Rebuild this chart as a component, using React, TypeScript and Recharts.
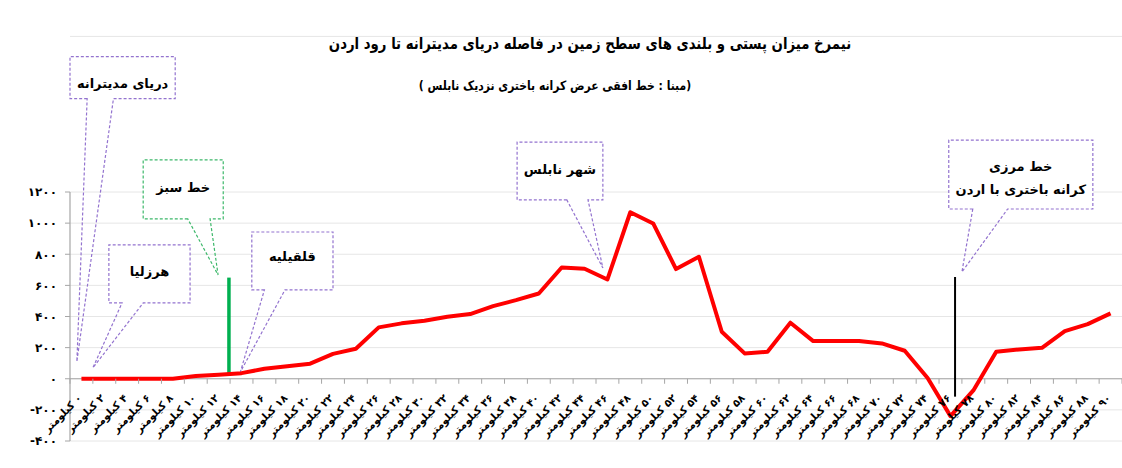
import React from "react";
import { CartesianGrid, Line, LineChart, ReferenceArea, ReferenceDot, ReferenceLine, XAxis, YAxis } from "recharts";

// distance from the coast (km) and ground elevation (m)
const distanceKm = [
  0, 2, 4, 6, 8, 10, 12, 14, 16, 18, 20, 22, 24, 26, 28, 30, 32, 34, 36, 38, 40, 42, 44,
  46, 48, 50, 52, 54, 56, 58, 60, 62, 64, 66, 68, 70, 72, 74, 76, 78, 80, 82, 84, 86, 88, 90,
];
const elevation = [
  0, 0, 0, 0, 0, 17, 26, 36, 64, 81, 97, 160, 193, 330, 356, 373, 398, 416, 467, 505, 548, 715, 707,
  638, 1070, 998, 705, 784, 302, 163, 173, 360, 242, 242, 242, 227, 180, 5, -240, -75, 173, 188, 199, 306, 351, 420,
];
const yTicks = [-400, -200, 0, 200, 400, 600, 800, 1000, 1200];

const title = "نیمرخ میزان پستی و بلندی های سطح زمین در فاصله دریای مدیترانه تا رود اردن";
const subtitle = "(مبنا : خط افقی عرض کرانه باختری نزدیک نابلس )";
const kmUnit = "کیلومتر";

// vertical markers (km, from elevation, to elevation)
const greenLine = { km: 12.9, from: 35, to: 650 };
const borderLine = { km: 76.4, from: -115, to: 654 };

const PURPLE = "#9373cf";
const GREEN = "#3cb86a";
const FONT = "'DejaVu Sans', sans-serif";

type Callout = {
  lines: string[];
  x1: number;
  x2: number;
  y1: number;
  y2: number;
  base: [number, number];
  tip: [number, number];
  color: string;
  dy?: number;
};

const callouts: Callout[] = [
  { lines: ["دریای مدیترانه"], x1: -1, x2: 8.2, y1: 1800, y2: 2070, base: [0.5, 2.8], tip: [-0.4, 110], color: PURPLE, dy: 6 },
  { lines: ["هرزلیا"], x1: 2.4, x2: 9.5, y1: 487, y2: 860, base: [3.55, 5.4], tip: [1.0, 70], color: PURPLE, dy: -2 },
  { lines: ["خط سبز"], x1: 5.4, x2: 12.4, y1: 1027, y2: 1406, base: [9.3, 11.25], tip: [11.95, 667], color: GREEN, dy: -2 },
  { lines: ["قلقیلیه"], x1: 14.9, x2: 22.0, y1: 571, y2: 943, base: [16.0, 17.8], tip: [13.9, 44], color: PURPLE, dy: -4 },
  { lines: ["شهر نابلس"], x1: 38.1, x2: 45.6, y1: 1149, y2: 1521, base: [42.45, 44.3], tip: [45.6, 712], color: PURPLE, dy: -2 },
  {
    lines: ["خط مرزی", "کرانه باختری با اردن"],
    x1: 75.85,
    x2: 88.45,
    y1: 1091,
    y2: 1534,
    base: [77.95, 81.0],
    tip: [77.0, 686],
    color: PURPLE,
    dy: 3,
  },
];

const data = distanceKm.map((km, i) => ({ km, elevation: elevation[i] }));
const boundaries = [...distanceKm.map((km) => km - 1), distanceKm[distanceKm.length - 1] + 1];

const fa = (n: number) => String(n).replace(/\d/g, (d) => "۰۱۲۳۴۵۶۷۸۹"[+d]);

function CalloutShape(props: any) {
  const { x, y, width, height, c } = props as { x: number; y: number; width: number; height: number; c: Callout };
  const kx = width / (c.x2 - c.x1);
  const ky = height / (c.y2 - c.y1);
  const px = (km: number) => x + (km - c.x1) * kx;
  const py = (v: number) => y + (c.y2 - v) * ky;
  const bottom = y + height;
  const b1 = px(c.base[0]);
  const b2 = px(c.base[1]);
  const d = `M${b1},${bottom} L${x},${bottom} L${x},${y} L${x + width},${y} L${x + width},${bottom} L${b2},${bottom} L${px(c.tip[0])},${py(c.tip[1])} Z`;
  const cy = y + height / 2 + (c.dy ?? 0) - ((c.lines.length - 1) * 23) / 2;
  return (
    <g>
      <rect x={x} y={y} width={width} height={height} fill="#fff" />
      <path d={d} fill="none" stroke={c.color} strokeWidth={1.2} strokeDasharray="3 2" />
      {c.lines.map((t, i) => (
        <text
          key={i}
          x={x + width / 2}
          y={cy + i * 23}
          textAnchor="middle"
          dominantBaseline="central"
          direction="rtl"
          fontFamily={FONT}
          fontWeight={700}
          fontSize={13}
          fill="#000"
        >
          {t}
        </text>
      ))}
    </g>
  );
}

function KmLabel({ cx, cy, km }: { cx: number; cy: number; km: number }) {
  const ax = cx + 1;
  const ay = cy + 20;
  return (
    <text
      x={ax}
      y={ay}
      transform={`rotate(-45, ${ax}, ${ay})`}
      textAnchor="end"
      fontFamily={FONT}
      fontWeight={700}
      fontSize={10.5}
      fill="#000"
    >
      {"\u200F" + fa(km) + " " + kmUnit}
    </text>
  );
}

export default function App() {
  return (
    <div style={{ position: "absolute", left: 0, top: 0, width: 1122, height: 468, background: "#fff" }}>
      <div
        style={{
          position: "absolute",
          left: 590,
          top: 34,
          transform: "translateX(-50%) scaleX(0.83)",
          whiteSpace: "nowrap",
          direction: "rtl",
          fontFamily: FONT,
          fontWeight: 700,
          fontSize: 16,
          zIndex: 2,
        }}
      >
        {title}
      </div>
      <div
        style={{
          position: "absolute",
          left: 555,
          top: 78,
          transform: "translateX(-50%) scaleX(0.83)",
          whiteSpace: "nowrap",
          direction: "rtl",
          fontFamily: FONT,
          fontWeight: 700,
          fontSize: 13,
          zIndex: 2,
        }}
      >
        {subtitle}
      </div>
      <LineChart width={1122} height={468} data={data} margin={{ top: 36.4, right: 0, bottom: 27, left: 10 }}>
        <CartesianGrid vertical={false} stroke="#e6e6e6" />
        <XAxis type="number" dataKey="km" domain={[-1, 91]} hide />
        <YAxis
          type="number"
          domain={[-400, 2200]}
          ticks={yTicks}
          interval={0}
          width={60}
          axisLine={false}
          stroke="#a6a6a6"
          tickSize={5}
          tickMargin={8}
          tickFormatter={fa}
          tick={{ fill: "#000", fontSize: 12, fontWeight: 700, fontFamily: FONT }}
        />
        <ReferenceLine
          segment={[
            { x: -1, y: yTicks[0] },
            { x: -1, y: yTicks[yTicks.length - 1] },
          ]}
          stroke="#a6a6a6"
          strokeWidth={1.2}
        />
        <ReferenceLine y={0} stroke="#a6a6a6" strokeWidth={1.2} />
        {boundaries.map((b) => (
          <ReferenceDot
            key={"t" + b}
            x={b}
            y={0}
            r={0}
            ifOverflow="visible"
            shape={(p: any) => <line x1={p.cx} y1={p.cy} x2={p.cx} y2={p.cy + 5} stroke="#a6a6a6" strokeWidth={1} />}
          />
        ))}
        {distanceKm.map((km) => (
          <ReferenceDot
            key={"l" + km}
            x={km}
            y={0}
            r={0}
            ifOverflow="visible"
            shape={(p: any) => <KmLabel cx={p.cx} cy={p.cy} km={km} />}
          />
        ))}
        {callouts.map((c, i) => (
          <ReferenceArea
            key={"c" + i}
            x1={c.x1}
            x2={c.x2}
            y1={c.y1}
            y2={c.y2}
            ifOverflow="visible"
            shape={(p: any) => <CalloutShape {...p} c={c} />}
          />
        ))}
        <ReferenceLine
          segment={[
            { x: greenLine.km, y: greenLine.from },
            { x: greenLine.km, y: greenLine.to },
          ]}
          stroke="#00b050"
          strokeWidth={3.5}
        />
        <ReferenceLine
          segment={[
            { x: borderLine.km, y: borderLine.from },
            { x: borderLine.km, y: borderLine.to },
          ]}
          stroke="#000"
          strokeWidth={2}
        />
        <Line
          type="linear"
          dataKey="elevation"
          stroke="#ff0000"
          strokeWidth={4}
          strokeLinejoin="round"
          dot={false}
          activeDot={false}
          isAnimationActive={false}
        />
      </LineChart>
    </div>
  );
}
